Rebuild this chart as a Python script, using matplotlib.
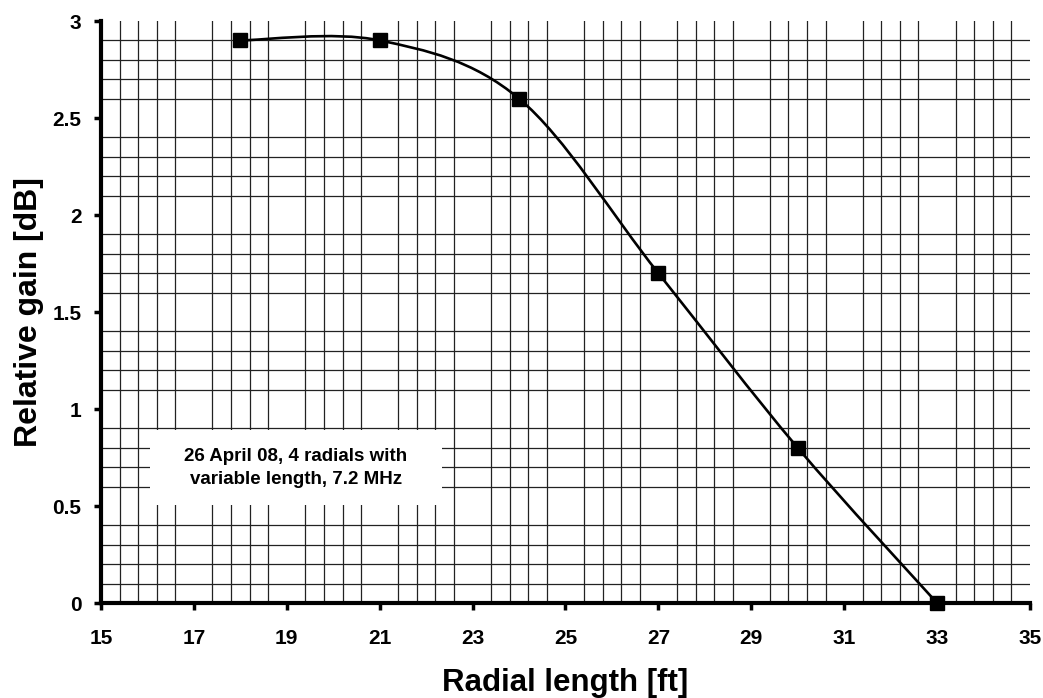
import numpy as np
import matplotlib
matplotlib.use("Agg")
import matplotlib.pyplot as plt
from matplotlib.path import Path
from matplotlib.patches import PathPatch, Rectangle

plt.rcParams['font.family'] = ['Liberation Sans', 'DejaVu Sans']
plt.rcParams['font.weight'] = 'bold'

# measured points
radial_ft = [18, 21, 24, 27, 30, 33]
gain_db = [2.9, 2.9, 2.6, 1.7, 0.8, 0.0]

x_ticks = [15, 17, 19, 21, 23, 25, 27, 29, 31, 33, 35]
y_ticks = [0, 0.5, 1, 1.5, 2, 2.5, 3]
y_tick_labels = ["0", "0.5", "1", "1.5", "2", "2.5", "3"]
note = "26 April 08, 4 radials with\nvariable length, 7.2 MHz"


def smooth_path(xs, ys):
    # spreadsheet style smoothed line: cubic bezier with catmull-rom handles
    p = np.column_stack([xs, ys]).astype(float)
    n = len(p)
    verts = [p[0]]
    codes = [Path.MOVETO]
    for i in range(n - 1):
        prev = p[i - 1] if i > 0 else p[i]
        nxt = p[i + 2] if i + 2 < n else p[i + 1]
        c1 = p[i] + (p[i + 1] - prev) / 6
        c2 = p[i + 1] - (nxt - p[i]) / 6
        verts += [c1, c2, p[i + 1]]
        codes += [Path.CURVE4] * 3
    return Path(verts, codes)


fig = plt.figure(figsize=(10.43, 6.98), dpi=100)
ax = fig.add_axes([0.0968, 0.1361, 0.8907, 0.8338])

ax.set_xlim(15, 35)
ax.set_ylim(0, 3)

# graph paper grid
ax.set_xticks(np.arange(15, 35.01, 0.4), minor=True)
ax.set_yticks(np.arange(0, 3.001, 0.1), minor=True)
ax.grid(which='minor', color='#222222', linewidth=0.9, zorder=0)
ax.tick_params(which='minor', length=0)

ax.set_xticks(x_ticks)
ax.set_yticks(y_ticks)
ax.set_yticklabels(y_tick_labels)
ax.tick_params(which='major', direction='out', length=5, width=2.5,
               labelsize=15, pad=14)
ax.tick_params(axis='y', pad=9)
for lab in ax.get_xticklabels() + ax.get_yticklabels():
    lab.set_fontweight('bold')

for s in ['top', 'right']:
    ax.spines[s].set_visible(False)
for s in ['left', 'bottom']:
    ax.spines[s].set_linewidth(3)
    ax.spines[s].set_zorder(5)

ax.add_patch(PathPatch(smooth_path(radial_ft, gain_db), facecolor='none',
                       edgecolor='black', linewidth=1.9, zorder=3))
ax.plot(radial_ft, gain_db, linestyle='none', marker='s', markersize=9.5,
        color='black', zorder=4, clip_on=False)

ax.add_patch(Rectangle((16.05, 0.505), 6.3, 0.385, facecolor='white',
                       edgecolor='none', zorder=2))
ax.text(19.2, 0.695, note, ha='center', va='center', fontsize=13.5,
        fontweight='bold', linespacing=1.5, zorder=3)

ax.set_xlabel("Radial length [ft]", fontsize=22.5, fontweight='bold', labelpad=14)
ax.set_ylabel("Relative gain [dB]", fontsize=23, fontweight='bold', labelpad=6)

fig.savefig("out.png", dpi=100)
